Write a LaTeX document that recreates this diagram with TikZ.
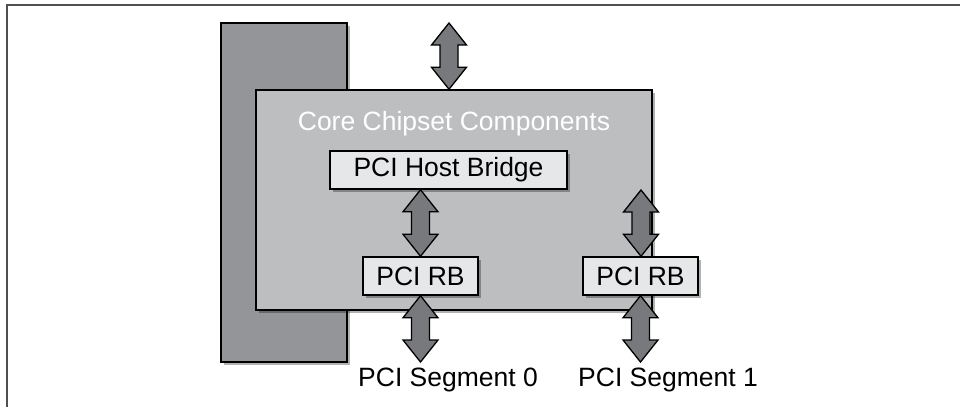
\documentclass[tikz,border=0pt]{standalone}
\usepackage{fontspec}
\setmainfont{Liberation Sans}
\usetikzlibrary{
  arrows.meta,
  positioning,
  calc,
  shadows
}
\definecolor{memgray}{RGB}{147,149,152}
\definecolor{coregray}{RGB}{188,190,192}
\definecolor{boxgray}{RGB}{230,231,232}
\definecolor{busgray}{RGB}{120,121,124}
\definecolor{framegray}{RGB}{80,80,80}

% fat two-headed bus arrow, vertical, from #1 (top) to #2 (bottom)
\newcommand\busarrow[2]{%
  \draw[bus] let \p1=(#1), \p2=(#2) in
    (\x1,\y1) -- (\x1+17.5pt,\y1-22pt) -- (\x1+9pt,\y1-22pt)
    -- (\x1+9pt,\y2+22pt) -- (\x1+17.5pt,\y2+22pt) -- (\x1,\y2)
    -- (\x1-17.5pt,\y2+22pt) -- (\x1-9pt,\y2+22pt)
    -- (\x1-9pt,\y1-22pt) -- (\x1-17.5pt,\y1-22pt) -- cycle;}

\begin{document}
\begin{tikzpicture}[
  x=1pt, y=-1pt,
  every node/.style={font=\fontsize{26.5}{30}\selectfont},
  shade/.style={drop shadow={shadow xshift=3pt, shadow yshift=-3pt,
                opacity=.3, fill=black}},
  block/.style={draw=black, line width=1.5pt, inner sep=0pt, shade},
  unit/.style={block, fill=boxgray, minimum height=38pt},
  bus/.style={draw=black, line width=1.3pt, fill=busgray, line join=miter},
  seglabel/.style={inner sep=0pt, anchor=north west}
]
\useasboundingbox (0,0) rectangle (960,407);

% frame
\draw[framegray, line width=1.5pt] (7,407) -- (7,5) -- (960,5);

\node[block, fill=memgray, minimum width=126pt, minimum height=339pt] (mem) at (284,192.5) {};
\node[block, fill=coregray, minimum width=396pt, minimum height=220pt] (core) at (454,200) {};
\node[inner sep=0pt, text=white, below=22pt of core.north] (title) {Core Chipset Components};

\node[unit, minimum width=237pt] (hb) at (448.5,170) {PCI Host Bridge};
\node[unit, minimum width=115pt] (rbzero) at (420.5,276) {PCI RB};
\node[unit, minimum width=115pt] (rbone) at (640.5,276) {PCI RB};

\coordinate (hostbus) at (449,23);
\coordinate (busone) at (641,190);
\coordinate (segzero) at (421,362);
\coordinate (segone) at (641,362);

\busarrow{hostbus}{core.north}
\busarrow{hb.south -| rbzero}{rbzero.north}
\busarrow{busone}{rbone.north}
\busarrow{rbzero.south}{segzero}
\busarrow{rbone.south}{segone}

\node[seglabel] (segzerolbl) at ([xshift=-63pt, yshift=-6pt]segzero) {PCI Segment 0};
\node[seglabel] (segonelbl) at ([xshift=-63pt, yshift=-6pt]segone) {PCI Segment 1};

\end{tikzpicture}
\end{document}
